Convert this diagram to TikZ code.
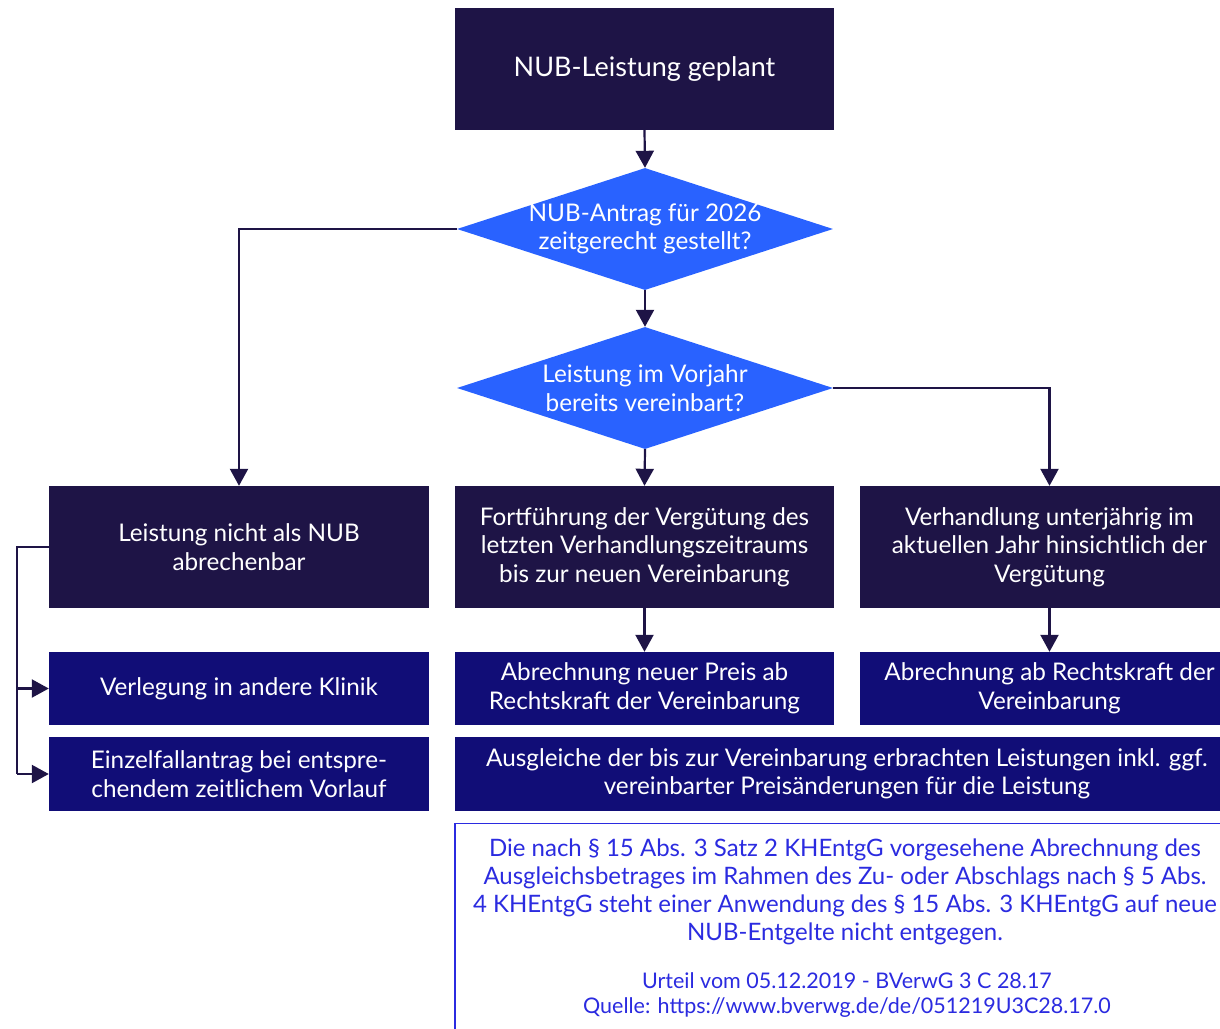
\documentclass[tikz,border=0pt]{standalone}
\usepackage{fontspec}
\setmainfont{Lato}
\usetikzlibrary{shapes.geometric,arrows.meta}
\definecolor{darknavy}{HTML}{1E1446}
\definecolor{navyblue}{HTML}{110D77}
\definecolor{brightblue}{HTML}{2962FF}
\definecolor{notetext}{HTML}{2B2BE0}
\begin{document}
\begin{tikzpicture}[x=1pt,y=-1pt,
  boxfont/.style={font=\fontsize{24.3}{28.5}\selectfont},
  darkbox/.style={rectangle,fill=darknavy,text=white,inner sep=0pt,align=center,boxfont},
  bluebox/.style={rectangle,fill=navyblue,text=white,inner sep=0pt,align=center,boxfont},
  decision/.style={diamond,fill=brightblue,inner sep=0pt,minimum width=376pt,minimum height=122pt},
  dtext/.style={text=white,inner sep=0pt,align=center,boxfont},
  conn/.style={draw=darknavy,line width=2.2pt,-{Triangle[length=17pt,width=18pt]}},
  line/.style={draw=darknavy,line width=2.2pt}]
\useasboundingbox (0,0) rectangle (1220,1028);
\clip (0,0) rectangle (1220,1028);
\node[darkbox,minimum width=379pt,minimum height=122pt,font=\fontsize{27}{30}\selectfont] (start) at (644.5,69) {NUB-Leistung geplant};
\node[decision] (d1) at (645,229) {};
\node[dtext] (d1t) at (d1.center) {NUB-Antrag für 2026\\zeitgerecht gestellt?};
\node[decision] (d2) at (645,388) {};
\node[dtext] (d2t) at (d2.center) {Leistung im Vorjahr\\bereits vereinbart?};
\node[darkbox,minimum width=380pt,minimum height=122pt] (left) at (239,547) {Leistung nicht als NUB\\abrechenbar};
\node[darkbox,minimum width=379pt,minimum height=122pt] (mid) at (644.5,547) {Fortführung der Vergütung des\\letzten Verhandlungszeitraums\\bis zur neuen Vereinbarung};
\node[darkbox,minimum width=379pt,minimum height=122pt] (right) at (1049.5,547) {Verhandlung unterjährig im\\aktuellen Jahr hinsichtlich der\\Vergütung};
\node[bluebox,minimum width=380pt,minimum height=73pt] (verl) at (239,688.5) {Verlegung in andere Klinik};
\node[bluebox,minimum width=379pt,minimum height=73pt] (abr1) at (644.5,688.5) {Abrechnung neuer Preis ab\\Rechtskraft der Vereinbarung};
\node[bluebox,minimum width=379pt,minimum height=73pt] (abr2) at (1049.5,688.5) {Abrechnung ab Rechtskraft der\\Vereinbarung};
\node[bluebox,minimum width=380pt,minimum height=74pt] (einz) at (239,774) {Einzelfallantrag bei entspre-\\chendem zeitlichem Vorlauf};
\node[bluebox,minimum width=784pt,minimum height=74pt] (ausg) at (847,774) {Ausgleiche der bis zur Vereinbarung erbrachten Leistungen inkl. ggf.\\vereinbarter Preisänderungen für die Leistung};
\node[rectangle,draw=notetext,line width=1.2pt,fill=white,minimum width=784pt,minimum height=230pt,anchor=north] (note) at (847,822.5) {};
\node[text=notetext,align=center,inner sep=0pt,font=\fontsize{24}{28}\selectfont,anchor=north] (notetxt) at (845,839) {Die nach § 15 Abs. 3 Satz 2 KHEntgG vorgesehene Abrechnung des\\Ausgleichsbetrages im Rahmen des Zu- oder Abschlags nach § 5 Abs.\\4 KHEntgG steht einer Anwendung des § 15 Abs. 3 KHEntgG auf neue\\NUB-Entgelte nicht entgegen.};
\node[text=notetext,align=center,inner sep=0pt,font=\fontsize{21.5}{25}\selectfont,anchor=north] (src) at (847,972) {Urteil vom 05.12.2019 - BVerwG 3 C 28.17\\Quelle: https://www.bverwg.de/de/051219U3C28.17.0};
\draw[conn] (start.south) -- (d1.north);
\draw[conn] (d1.south) -- (d2.north);
\draw[conn] (d2.south) -- (mid.north);
\draw[conn] (d1.west) -| (left.north);
\draw[conn] (d2.east) -| (right.north);
\draw[conn] (mid.south) -- (abr1.north);
\draw[conn] (right.south) -- (abr2.north);
\coordinate (lb) at (17,547);
\draw[line] (left.west) -- (lb) -- (lb |- einz.west);
\draw[conn] (lb |- verl.west) -- (verl.west);
\draw[conn] (lb |- einz.west) -- (einz.west);
\end{tikzpicture}
\end{document}
